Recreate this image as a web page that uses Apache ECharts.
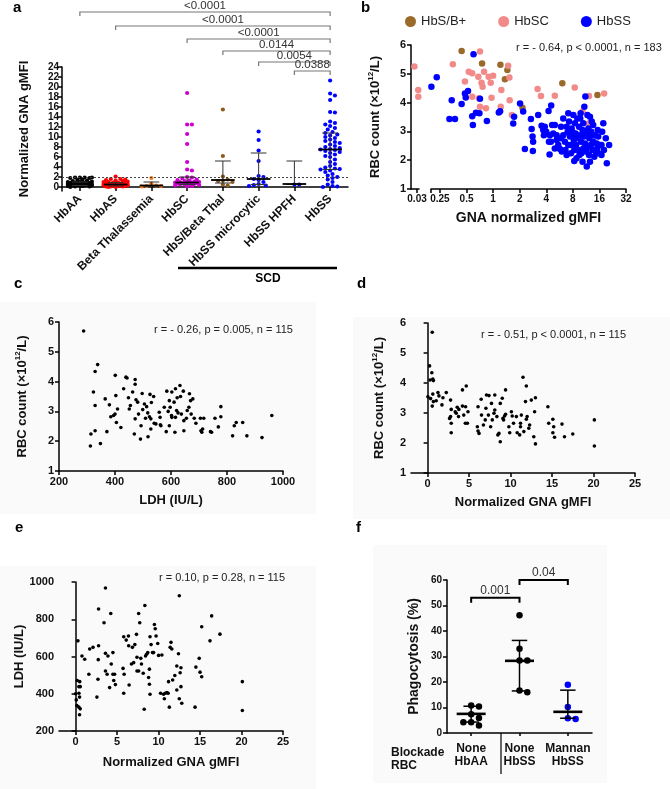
<!DOCTYPE html>
<html>
<head>
<meta charset="utf-8">
<script src="https://cdn.jsdelivr.net/npm/echarts@6/dist/echarts.min.js"></script>
<style>
  html, body { margin: 0; padding: 0; background: #fff; }
  #chart { width: 670px; height: 789px; }
</style>
</head>
<body>
<div id="chart"></div>
<script>
const FONT = '"Liberation Sans", Arial, Helvetica, sans-serif'

// ---- panel a : GNA gMFI by genotype ----
const aCats = ['HbAA', 'HbAS', 'Beta Thalassemia', 'HbSC', 'HbS/Beta Thal', 'HbSS microcytic', 'HbSS HPFH', 'HbSS']
const aColors = ['#000000', '#ff0000', '#f07d1e', '#cc00cc', '#8c5a1e', '#0000ff', '#0000ff', '#0000ff']
const hbAA = [1.9, 1.9, 1.9, 1.8, 1.8, 1.9, 1.5, 1.4, 1.3, 1.2, 1.1, 1.0, 1.0, 0.9, 0.9, 0.8, 0.8, 0.8, 0.7, 0.7,
  0.7, 0.6, 0.6, 0.6, 0.6, 0.5, 0.5, 0.5, 0.5, 0.4, 0.4, 0.4, 0.3, 0.3, 0.3, 0.2, 0.2, 0.1, 0.1, 0.0]
const hbAS = [2.1, 1.6, 1.6, 1.5, 1.4, 1.3, 1.2, 1.1, 1.0, 1.0, 0.9, 0.9, 0.8, 0.8, 0.8, 0.7, 0.7, 0.7, 0.6, 0.6,
  0.6, 0.5, 0.5, 0.5, 0.5, 0.4, 0.4, 0.4, 0.4, 0.3, 0.3, 0.3, 0.3, 0.2, 0.2, 0.2, 0.2, 0.1, 0.1, 0.1, 0.0, 0.0]
const betaThal = [1.8, 0.7, 0.3, 0.2, 0.2, 0.1]
const hbSC = [18.8, 12.5, 12.5, 10.6, 8.6, 5.0, 3.5, 3.3, 2.0, 1.9, 1.7, 1.5, 1.4, 1.3, 1.2, 1.1, 1.0, 1.0, 0.9, 0.9,
  0.8, 0.8, 0.7, 0.7, 0.6, 0.6, 0.5, 0.5, 0.4, 0.3, 0.2, 0.1]
const hbSBThal = [15.5, 6.2, 2.1, 1.5, 1.3, 1.2, 1.0, 0.5, 0.3]
const hbSSMicro = [11.1, 9.4, 7.3, 5.2, 2.2, 2.0, 1.6, 1.4, 1.0, 0.6, 0.4, 0.3, 0.2]
const hbSSHpfh = [0.5, 0.5]
const hbSS = [21.3, 18.7, 18.3, 17.4, 15.0, 14.9, 13.1, 12.8, 12.5, 12.2, 11.8, 11.5, 11.0, 10.8, 10.5, 10.3, 10.0,
  9.8, 9.5, 9.2, 9.0, 8.8, 8.5, 8.2, 8.0, 7.8, 7.6, 7.5, 7.4, 7.2, 7.0, 6.8, 6.5, 6.2, 6.0, 5.5, 5.0, 4.6, 4.2,
  3.9, 3.7, 3.6, 3.5, 3.3, 3.0, 2.6, 2.3, 2.0, 1.8, 1.5, 1.0, 0.5, 0.2, 0.1, 0.0]
const aGroups = [hbAA, hbAS, betaThal, hbSC, hbSBThal, hbSSMicro, hbSSHpfh, hbSS]
const aMedian = [0.6, 0.5, 0.3, 0.9, 1.4, 1.6, 0.6, 7.5]
const aQ1 = [0.3, 0.2, 0.15, 0.5, 0.8, 0.5, 0.5, 3.5]
const aQ3 = [1.0, 0.9, 1.0, 2.0, 5.2, 6.8, 5.2, 10.8]
const aCutoff = 1.9
const aTicks = [0, 2, 4, 6, 8, 10, 12, 14, 16, 18, 20, 22, 24]
// [from group, to group, height in gMFI units]
const aBrackets = [[0, 7, 35], [1, 7, 32.2], [3, 7, 29.6], [4, 7, 27.2], [5, 7, 25], [6, 7, 23.2]]
const aPvals = ['<0.0001', '<0.0001', '<0.0001', '0.0144', '0.0054', '0.0388']

// ---- panel b : RBC count vs GNA gMFI (log2) ----
const bBrown = [[0.44, 5.79], [0.75, 5.36], [1.21, 5.31], [1.45, 5.13], [1.36, 4.81], [2.15, 3.82], [6.08, 4.67], [15.2, 4.26]]
const bPink = [[0.028, 5.25], [0.031, 4.44], [0.031, 4.2],
  [0.35, 5.33], [0.48, 4.73], [0.53, 5.07], [0.58, 5.02], [0.71, 5.77], [0.68, 4.9], [0.79, 5.07], [0.89, 4.9],
  [1.0, 4.93], [0.74, 4.69], [0.76, 4.55], [0.94, 4.69], [0.58, 4.2], [0.71, 3.86], [0.83, 3.8], [0.96, 4.17],
  [1.24, 4.44], [1.22, 3.86], [1.48, 5.28], [1.53, 4.87], [1.54, 4.08], [1.63, 3.57], [3.19, 4.47], [3.48, 4.23],
  [5.0, 4.24], [8.4, 4.52], [10.3, 3.69], [12.2, 4.23], [12.2, 3.28], [18.1, 4.32], [0.69, 4.15]]
const bBlue = [[0.2, 4.55], [0.23, 4.88], [0.34, 4.08], [0.32, 3.43], [0.37, 3.43], [0.44, 3.95], [0.49, 4.18],
  [0.48, 4.32], [0.52, 4.4], [0.6, 5.68], [0.58, 3.53], [0.59, 3.22], [0.64, 3.65], [0.7, 3.63], [0.71, 4.13],
  [0.85, 3.36], [1.16, 3.66], [1.2, 3.7], [1.73, 3.51], [1.69, 3.27], [2.02, 3.97], [2.19, 3.69], [2.29, 2.39],
  [2.68, 3.43], [2.73, 3.08], [2.8, 2.82], [2.84, 2.64], [2.82, 2.32], [3.24, 3.57], [3.54, 3.2], [3.7, 3.05],
  [3.76, 2.87], [3.85, 3.16], [4.25, 3.71], [4.55, 3.9], [4.36, 2.2], [4.29, 2.64], [4.51, 2.64], [4.67, 3.22],
  [4.8, 2.93], [5.0, 3.22], [5.47, 2.53], [5.72, 2.39], [5.88, 2.76], [6.0, 2.3], [6.23, 3.45], [6.23, 2.87],
  [6.5, 2.64], [6.8, 3.16], [6.97, 2.97], [7.1, 3.63], [7.25, 3.34], [7.43, 2.82], [7.56, 2.53], [7.62, 2.24],
  [7.75, 3.1], [7.9, 2.87], [7.96, 2.97], [8.1, 3.57], [8.2, 2.7], [8.3, 2.35], [8.45, 3.28], [8.6, 2.93],
  [8.7, 2.53], [8.8, 2.07], [8.99, 3.45], [9.2, 2.76], [9.4, 3.16], [9.5, 2.18], [9.7, 2.87], [9.8, 3.63],
  [9.9, 2.64], [10.0, 2.24], [10.3, 3.05], [10.5, 3.28], [10.5, 2.41], [10.7, 2.82], [10.8, 3.86], [11.0, 2.58],
  [11.1, 4.21], [11.3, 2.3], [11.5, 2.87], [11.5, 1.78], [11.7, 3.57], [11.8, 2.47], [12.0, 3.1], [12.2, 2.18],
  [12.3, 2.76], [12.5, 3.51], [12.5, 1.95], [12.8, 2.53], [12.9, 2.99], [13.1, 3.34], [13.3, 2.35], [13.6, 2.64],
  [13.9, 2.87], [14.0, 2.12], [14.5, 2.3], [14.9, 2.58], [15.1, 2.41], [15.5, 2.82], [15.5, 2.24], [16.2, 2.53],
  [16.9, 2.18], [17.7, 3.28], [18.9, 2.76], [19.4, 1.89], [20.6, 2.53], [18.0, 2.35], [5.24, 2.87], [5.24, 2.7],
  [5.88, 3.16], [6.6, 2.35], [7.1, 2.53], [8.45, 2.76], [9.7, 3.45], [9.2, 2.35], [11.0, 2.99], [12.5, 2.87],
  [13.6, 3.22], [10.3, 1.95], [8.3, 1.97], [14.2, 2.87], [15.3, 3.05], [16.9, 2.53], [17.2, 2.99], [6.8, 2.18],
  [5.0, 2.41], [4.4, 2.87], [4.0, 2.99]]
const bBreak = 0.1
const bLowTicks = [0.03]
const bTicks = [0.25, 0.5, 1, 2, 4, 8, 16, 32]

// ---- panel c : RBC vs LDH ----
const cPoints = [[288, 5.7], [338, 4.57], [329, 4.34], [323, 3.65], [329, 3.2], [329, 2.35], [314, 2.24], [312, 1.84],
  [348, 1.92], [365, 3.42], [371, 2.32], [380, 3.22], [385, 2.82], [395, 2.86], [400, 2.91], [403, 3.53], [405, 2.63],
  [409, 3.08], [421, 2.46], [401, 4.21], [431, 3.76], [439, 4.15], [443, 4.12], [448, 3.46], [451, 3.08], [463, 3.65],
  [472, 4.07], [472, 3.91], [475, 3.39], [481, 3.31], [469, 2.24], [491, 2.07], [472, 2.75], [484, 2.91], [493, 2.52],
  [499, 3.06], [505, 3.25], [509, 2.77], [513, 3.16], [517, 2.95], [523, 2.82], [525, 3.57], [528, 2.75], [518, 2.15],
  [528, 2.41], [538, 3.5], [540, 2.6], [546, 2.58], [558, 2.97], [564, 2.52], [561, 2.8], [562, 2.55], [576, 3.14],
  [583, 2.32], [585, 3.68], [594, 3.36], [597, 3.14], [602, 2.86], [603, 3.65], [594, 2.52], [603, 2.8], [611, 3.31],
  [614, 2.3], [616, 3.76], [616, 2.8], [620, 3.03], [622, 3.46], [632, 3.87], [634, 3.5], [637, 2.91], [644, 3.68],
  [646, 2.69], [646, 2.35], [655, 2.77], [658, 3.03], [664, 3.14], [666, 3.59], [670, 3.36], [672, 2.91], [678, 3.42],
  [683, 2.77], [689, 2.6], [705, 2.77], [707, 2.35], [710, 2.3], [713, 2.41], [717, 2.77], [741, 2.32], [745, 2.3],
  [757, 2.77], [769, 2.48], [778, 3.16], [778, 2.82], [820, 2.18], [826, 2.52], [833, 2.63], [856, 2.63], [871, 2.18],
  [925, 2.12], [960, 2.86], [455, 3.2], [497, 3.6], [530, 3.3], [590, 3.0], [625, 2.95]]

// ---- panel d : RBC vs normalized GNA gMFI ----
const dPoints = [[0.56, 5.69], [0.24, 4.57], [0.51, 4.34], [0.3, 4.1], [0.63, 4.13], [0.7, 4.08], [0.04, 3.54],
  [0.36, 3.48], [0.63, 3.63], [0.7, 3.38], [0.56, 3.23], [1.04, 3.41], [1.25, 3.68], [1.37, 3.57], [1.73, 3.27],
  [1.85, 3.51], [2.25, 3.68], [2.77, 3.43], [2.65, 2.82], [2.85, 2.66], [2.85, 2.34], [2.85, 3.12], [3.33, 3.04],
  [3.57, 3.19], [3.77, 3.12], [3.73, 2.88], [4.2, 3.77], [4.66, 3.9], [4.2, 3.23], [4.36, 2.93], [4.55, 2.66],
  [4.8, 2.66], [4.87, 3.04], [4.58, 3.21], [6.0, 2.54], [6.08, 2.4], [6.2, 2.32], [6.08, 3.21], [6.46, 3.46],
  [6.5, 2.93], [6.73, 2.6], [6.95, 2.77], [7.03, 3.16], [7.1, 3.6], [7.4, 3.58], [7.33, 2.93], [7.6, 2.54],
  [7.7, 3.32], [7.8, 2.77], [8.1, 3.6], [8.0, 2.99], [8.1, 3.1], [8.35, 2.88], [8.47, 2.27], [8.6, 2.32],
  [8.76, 2.04], [8.76, 3.32], [9.0, 3.49], [9.08, 2.82], [9.16, 2.77], [9.28, 2.9], [9.4, 3.77], [9.4, 2.96],
  [9.8, 2.54], [9.9, 2.34], [10.1, 3.04], [10.2, 2.9], [10.36, 2.66], [10.7, 2.88], [10.8, 2.34], [11.1, 2.27],
  [11.2, 2.66], [11.2, 2.54], [11.3, 2.93], [11.5, 4.19], [11.6, 2.38], [11.8, 3.38], [11.9, 3.9], [12.0, 2.88],
  [12.2, 2.49], [12.3, 2.6], [12.5, 3.43], [12.8, 2.21], [12.9, 3.04], [13.0, 3.51], [13.0, 1.97], [14.5, 3.21],
  [14.6, 2.66], [15.1, 2.79], [15.1, 2.34], [15.2, 2.54], [15.3, 2.19], [16.2, 2.63], [16.5, 2.21], [17.5, 2.3],
  [20.1, 2.77], [20.1, 1.9], [11.9, 2.79], [2.77, 2.88], [3.45, 2.99]]

// ---- panel e : LDH vs normalized GNA gMFI ----
const ePoints = [[0.0, 400], [0.28, 684], [0.2, 471], [0.5, 465], [0.56, 438], [0.4, 438], [0.08, 367], [0.4, 403],
  [0.48, 382], [0.16, 337], [0.4, 328], [0.56, 319], [0.48, 287], [0.77, 603], [1.1, 585], [1.6, 505], [1.7, 640],
  [2.1, 649], [2.57, 382], [2.7, 478], [2.77, 855], [2.77, 658], [2.73, 583], [3.43, 781], [3.6, 968], [3.6, 522],
  [3.6, 617], [3.9, 603], [3.8, 505], [4.1, 433], [4.24, 831], [4.3, 560], [4.5, 621], [4.6, 471], [4.8, 449],
  [4.5, 505], [4.7, 505], [5.72, 536], [5.8, 706], [5.85, 505], [5.8, 403], [6.1, 688], [6.37, 710], [6.45, 447],
  [6.4, 658], [6.73, 560], [6.85, 649], [7.0, 567], [7.14, 664], [7.34, 719], [7.4, 596], [7.6, 831], [7.73, 781],
  [7.6, 522], [7.4, 522], [7.86, 590], [7.94, 560], [8.15, 510], [8.27, 317], [8.35, 874], [8.43, 603], [8.56, 612],
  [8.7, 621], [8.8, 487], [8.9, 532], [8.9, 451], [8.97, 397], [8.97, 706], [9.1, 664], [9.27, 621], [9.4, 621],
  [9.6, 749], [9.5, 772], [9.7, 710], [9.9, 670], [10.0, 606], [10.24, 403], [10.4, 608], [10.6, 397], [10.7, 373],
  [10.8, 403], [11.16, 403], [11.0, 406], [11.2, 465], [11.4, 649], [11.5, 676], [11.6, 640], [11.7, 474],
  [11.96, 498], [12.2, 420], [12.2, 549], [12.4, 615], [12.5, 373], [12.5, 926], [12.6, 513], [12.7, 540],
  [12.7, 438], [12.8, 349], [11.3, 328], [14.4, 328], [14.5, 543], [14.9, 590], [15.0, 516], [15.2, 491],
  [15.2, 760], [16.2, 684], [16.4, 818], [17.4, 720], [20.1, 465], [20.1, 310]]
const dTicks = [0, 5, 10, 15, 20, 25]

// ---- panel f : phagocytosis ----
const fCats = ['None\nHbAA', 'None\nHbSS', 'Mannan\nHbSS']
const fColors = ['#000000', '#000000', '#0000ff']
const fHbAA = [10.8, 10.4, 7.4, 5.9, 4.2, 4.2, 2.9]
const fHbSS = [46.2, 33.0, 28.4, 28.4, 16.7, 16.0]
const fMannan = [18.9, 10.2, 5.8, 5.5]
const fGroups = [fHbAA, fHbSS, fMannan]
const fMedian = [7.5, 28.3, 8.3]
const fQ1 = [4.3, 16.5, 5.8]
const fQ3 = [10.5, 36.3, 16.8]
const fBrackets = [[0, 1, 53], [1, 2, 60]]
const fPvals = ['0.001', '0.04']

// simple beeswarm: horizontal pixel offsets so dots do not pile up
function swarm(vals, pxPerUnit, diam, maxHalf) {
  const placed = []
  return vals.map(v => {
    const y = v * pxPerUnit
    let bestDx = 0, bestD = -1
    for (let k = 0; ; k++) {
      const step = Math.ceil(k / 2) * diam * 0.6
      if (step > maxHalf) break
      const dx = k % 2 ? step : -step
      let minD = Infinity
      placed.forEach(p => { minD = Math.min(minD, Math.hypot(p.x - dx, p.y - y)) })
      if (minD >= diam) { bestDx = dx; break }
      if (minD > bestD) { bestD = minD; bestDx = dx }
    }
    placed.push({ x: bestDx, y: y })
    return bestDx
  })
}

const axisLine = { show: true, lineStyle: { color: '#000', width: 1.5 } }
const axisTick = { show: true, length: 4, lineStyle: { color: '#000', width: 1.5 } }
const tickLabel = { fontFamily: FONT, fontSize: 11, fontWeight: 'bold', color: '#111' }
const nameStyle = { fontFamily: FONT, fontSize: 13, fontWeight: 'bold', color: '#111' }
const plain = v => String(v)
const rbcName = '{n|RBC count (\u00d710}{s|12}{n|/L)}'
const rbcStyle = {
  rich: {
    n: { fontFamily: FONT, fontSize: 13, fontWeight: 'bold', color: '#111', lineHeight: 16 },
    s: { fontFamily: FONT, fontSize: 8, fontWeight: 'bold', color: '#111', verticalAlign: 'top', lineHeight: 16 }
  }
}

function valueAxis(gi, min, max, extra) {
  return Object.assign({
    gridIndex: gi, type: 'value', min: min, max: max,
    axisLine: axisLine, axisTick: axisTick, splitLine: { show: false },
    axisLabel: Object.assign({ margin: 5, formatter: plain }, tickLabel)
  }, extra)
}

function statSeries(xi, yi, med, q1, q3, medHalf, capHalf, medWidth, barColor, barWidth) {
  return {
    type: 'custom', xAxisIndex: xi, yAxisIndex: yi, silent: true, z: 5, clip: false,
    data: med.map((m, i) => [i, m, q1[i], q3[i]]),
    renderItem(params, api) {
      const i = api.value(0)
      const band = api.size([1, 0])[0]
      const pm = api.coord([i, api.value(1)])
      const p1 = api.coord([i, api.value(2)])
      const p3 = api.coord([i, api.value(3)])
      const bar = { stroke: barColor, lineWidth: barWidth }
      return {
        type: 'group', children: [
          { type: 'line', shape: { x1: pm[0], y1: p1[1], x2: pm[0], y2: p3[1] }, style: bar },
          { type: 'line', shape: { x1: pm[0] - band * capHalf, y1: p1[1], x2: pm[0] + band * capHalf, y2: p1[1] }, style: bar },
          { type: 'line', shape: { x1: pm[0] - band * capHalf, y1: p3[1], x2: pm[0] + band * capHalf, y2: p3[1] }, style: bar },
          { type: 'line', shape: { x1: pm[0] - band * medHalf, y1: pm[1], x2: pm[0] + band * medHalf, y2: pm[1] },
            style: { stroke: '#000', lineWidth: medWidth } }
        ]
      }
    }
  }
}

function bracketSeries(xi, yi, rows, labels, color, width, tick, font, lift) {
  return {
    type: 'custom', xAxisIndex: xi, yAxisIndex: yi, silent: true, z: 6, clip: false,
    data: rows,
    renderItem(params, api) {
      const a = api.coord([api.value(0), api.value(2)])
      const b = api.coord([api.value(1), api.value(2)])
      return {
        type: 'group', children: [
          { type: 'polyline', shape: { points: [[a[0], a[1] + tick], [a[0], a[1]], [b[0], b[1]], [b[0], b[1] + tick]] },
            style: { stroke: color, lineWidth: width, fill: null } },
          { type: 'text', x: (a[0] + b[0]) / 2, y: a[1] - lift,
            style: { text: labels[params.dataIndex], font: font, fill: '#333', align: 'center', verticalAlign: 'bottom' } }
        ]
      }
    }
  }
}

function dotSeries(xi, yi, data, color, size) {
  return {
    type: 'scatter', xAxisIndex: xi, yAxisIndex: yi, data: data, symbol: 'circle', symbolSize: size,
    itemStyle: { color: color, opacity: 1 }, silent: true, z: 3
  }
}

const series = []

// a: dots
aGroups.forEach((vals, gi) => {
  const offs = swarm(vals, 5, 4, 14)
  const s = dotSeries(0, 0, vals.map((v, k) => ({ value: [gi, v], symbolOffset: [offs[k], 0] })), aColors[gi], 4.2)
  if (gi === 0) {
    s.markLine = {
      silent: true, symbol: 'none', label: { show: false },
      lineStyle: { type: [2, 2], color: '#444', width: 1 },
      data: [{ yAxis: aCutoff }]
    }
  }
  series.push(s)
})
series.push(statSeries(0, 0, aMedian, aQ1, aQ3, 0.33, 0.22, 1.8, '#333', 1))
series.push(bracketSeries(0, 0, aBrackets, aPvals, '#777', 1.2, 4, '11.5px ' + FONT, 0))

// b: scatter, split over the broken log axis
const bSplit = (pts, low) => pts.filter(p => low ? p[0] < bBreak : p[0] >= bBreak)
const bSeries = [['HbS/B+', bBrown, '#9a6a2a'], ['HbSC', bPink, '#f28a8a'], ['HbSS', bBlue, '#0000ff']]
bSeries.forEach(([name, pts, color]) => {
  const lo = dotSeries(1, 1, bSplit(pts, true), color, 6.5)
  lo.name = name
  const hi = dotSeries(2, 2, bSplit(pts, false), color, 6.5)
  hi.name = name
  series.push(lo, hi)
})

// c, d, e
series.push(dotSeries(3, 3, cPoints, '#000', 3.6))
series.push(dotSeries(4, 4, dPoints, '#000', 3.6))
series.push(dotSeries(5, 5, ePoints, '#000', 3.6))

// f
fGroups.forEach((vals, gi) => {
  const offs = swarm(vals, 2.55, 6.5, 12)
  series.push(dotSeries(6, 6, vals.map((v, k) => ({ value: [gi, v], symbolOffset: [offs[k], 0] })), fColors[gi], 6.5))
})
series.push(statSeries(6, 6, fMedian, fQ1, fQ3, 0.3, 0.16, 2.6, '#000', 1.5))
series.push(bracketSeries(6, 6, fBrackets, fPvals, '#000', 2, 5, '12px ' + FONT, 1))

const panelLabel = (t, x, y) => ({ type: 'text', x: x, y: y, style: { text: t, font: 'bold 15px ' + FONT, fill: '#000' } })
const note = (t, x, y) => ({ type: 'text', x: x, y: y, style: { text: t, font: '11px ' + FONT, fill: '#222', verticalAlign: 'middle' } })
const bg = (x, y, w, h) => ({ type: 'rect', z: -10, shape: { x: x, y: y, width: w, height: h }, style: { fill: '#fafafa' } })

const option = {
  animation: false,
  backgroundColor: '#fff',
  textStyle: { fontFamily: FONT },
  legend: {
    left: 400, top: 10, itemWidth: 11, itemHeight: 11, itemGap: 32, icon: 'circle',
    textStyle: { fontFamily: FONT, fontSize: 13, color: '#222' },
    data: ['HbS/B+', 'HbSC', 'HbSS']
  },
  grid: [
    { left: 62, top: 67, width: 286, height: 124 },
    { left: 411, top: 45, width: 8, height: 144 },
    { left: 431, top: 45, width: 195, height: 144 },
    { left: 59, top: 322, width: 224, height: 149 },
    { left: 411, top: 323, width: 224, height: 150 },
    { left: 59, top: 582, width: 224, height: 149 },
    { left: 447, top: 580, width: 145, height: 153 }
  ].map(g => Object.assign({ outerBoundsMode: 'none' }, g)),
  xAxis: [
    {
      gridIndex: 0, type: 'category', data: aCats, axisLine: axisLine,
      axisTick: Object.assign({ alignWithLabel: true }, axisTick),
      axisLabel: Object.assign({ rotate: 45, interval: 0, margin: 6 }, tickLabel, { fontSize: 12 })
    },
    valueAxis(1, 0.0256, 0.0316, {
      type: 'log', logBase: 2,
      axisTick: Object.assign({ customValues: bLowTicks }, axisTick),
      axisLabel: Object.assign({ customValues: bLowTicks, margin: 5, formatter: v => String(+(+v).toPrecision(2)) }, tickLabel, { fontSize: 10 })
    }),
    valueAxis(2, 0.198, 32, {
      type: 'log', logBase: 2,
      axisTick: Object.assign({ customValues: [0.198].concat(bTicks) }, axisTick),
      axisLabel: Object.assign({ customValues: bTicks, margin: 5, formatter: v => String(+(+v).toPrecision(3)) }, tickLabel, { fontSize: 10 }),
      name: 'GNA normalized gMFI', nameLocation: 'middle', nameGap: 22, nameTextStyle: Object.assign({}, nameStyle, { fontSize: 14 })
    }),
    valueAxis(3, 200, 1000, { interval: 200, name: 'LDH (IU/L)', nameLocation: 'middle', nameGap: 23, nameTextStyle: nameStyle }),
    valueAxis(4, -2, 25, {
      axisTick: Object.assign({ customValues: dTicks }, axisTick),
      axisLabel: Object.assign({ customValues: dTicks, margin: 5 }, tickLabel),
      name: 'Normalized GNA gMFI', nameLocation: 'middle', nameGap: 23, nameTextStyle: nameStyle
    }),
    valueAxis(5, -2, 25, {
      axisTick: Object.assign({ customValues: dTicks }, axisTick),
      axisLabel: Object.assign({ customValues: dTicks, margin: 5 }, tickLabel),
      name: 'Normalized GNA gMFI', nameLocation: 'middle', nameGap: 25, nameTextStyle: nameStyle
    }),
    {
      gridIndex: 6, type: 'category', data: fCats, axisLine: axisLine,
      axisTick: Object.assign({ alignWithLabel: true }, axisTick, { length: 3 }),
      axisLabel: Object.assign({ interval: 0, margin: 9, lineHeight: 13 }, tickLabel, { fontSize: 12 })
    }
  ],
  yAxis: [
    valueAxis(0, -0.8, 24, {
      axisTick: Object.assign({ customValues: aTicks }, axisTick),
      axisLabel: Object.assign({ customValues: aTicks, margin: 3 }, tickLabel, { fontSize: 10 }),
      name: 'Normalized GNA gMFI', nameLocation: 'middle', nameGap: 31, nameTextStyle: nameStyle
    }),
    valueAxis(1, 1, 6, { interval: 1, name: rbcName, nameLocation: 'middle', nameGap: 28, nameTextStyle: rbcStyle }),
    valueAxis(2, 1, 6, { show: false }),
    valueAxis(3, 1, 6, { interval: 1, name: rbcName, nameLocation: 'middle', nameGap: 29, nameTextStyle: rbcStyle }),
    valueAxis(4, 1, 6, { interval: 1, name: rbcName, nameLocation: 'middle', nameGap: 24, nameTextStyle: rbcStyle }),
    valueAxis(5, 200, 1000, { interval: 200, name: 'LDH (IU/L)', nameLocation: 'middle', nameGap: 30, nameTextStyle: nameStyle }),
    valueAxis(6, 0, 60, {
      interval: 10, axisLabel: Object.assign({ margin: 5, formatter: plain }, tickLabel, { fontSize: 10 }),
      name: 'Phagocytosis (%)', nameLocation: 'middle', nameGap: 26, nameTextStyle: Object.assign({}, nameStyle, { fontSize: 14 })
    })
  ],
  graphic: [
    bg(0, 302, 316, 212), bg(353, 317, 317, 202), bg(0, 566, 316, 223), bg(373, 545, 234, 238),
    panelLabel('a', 13, 0), panelLabel('b', 361, 0), panelLabel('c', 14, 276), panelLabel('d', 357, 276),
    panelLabel('e', 15, 520), panelLabel('f', 356, 520),
    note('r = - 0.64, p < 0.0001, n = 183', 516, 48),
    note('r = - 0.26, p = 0.005, n = 115', 154, 330),
    note('r = - 0.51, p < 0.0001, n = 115', 481, 335),
    note('r = 0.10, p = 0.28, n = 115', 159, 578),
    { type: 'line', shape: { x1: 178, y1: 268, x2: 337, y2: 268 }, style: { stroke: '#000', lineWidth: 2.5 } },
    { type: 'text', x: 268, y: 279, style: { text: 'SCD', font: 'bold 12px ' + FONT, fill: '#000', align: 'center', verticalAlign: 'middle' } },
    { type: 'text', x: 391, y: 759, style: { text: 'Blockade\nRBC', font: 'bold 12px ' + FONT, fill: '#111', lineHeight: 13, verticalAlign: 'middle' } },
    { type: 'line', shape: { x1: 501, y1: 733, x2: 501, y2: 774 }, style: { stroke: '#000', lineWidth: 1.2 } }
  ],
  series: series
}

const chart = echarts.init(document.getElementById('chart'), null, { renderer: 'canvas' })
chart.setOption(option)
</script>
</body>
</html>
